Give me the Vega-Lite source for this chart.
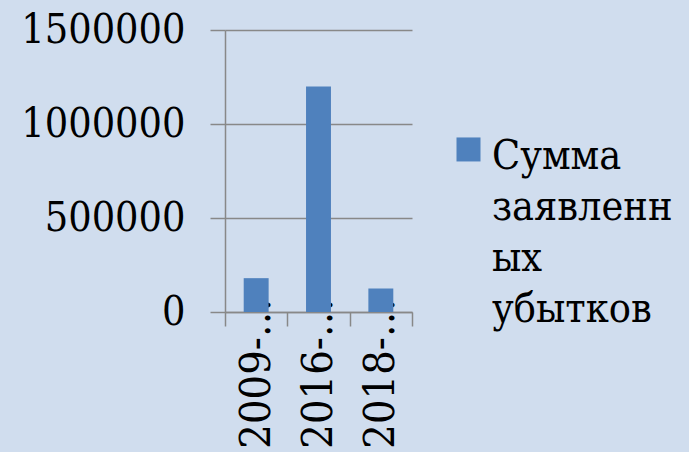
{
  "$schema": "https://vega.github.io/schema/vega-lite/v6.json",
  "width": 187,
  "height": 282,
  "autosize": "none",
  "padding": {"left": 225, "top": 30, "right": 277, "bottom": 140},
  "background": "#d0ddee",
  "data": {
    "values": [
      {"period": "2009-…", "amount": 180000, "series": "Сумма заявленных убытков"},
      {"period": "2016-…", "amount": 1200000, "series": "Сумма заявленных убытков"},
      {"period": "2018-…", "amount": 125000, "series": "Сумма заявленных убытков"}
    ]
  },
  "mark": {"type": "bar", "width": {"band": 0.4}},
  "encoding": {
    "x": {
      "field": "period",
      "type": "nominal",
      "sort": null,
      "title": null,
      "scale": {"paddingInner": 0, "paddingOuter": 0},
      "axis": {
        "tickBand": "extent",
        "labelAngle": 270,
        "labelAlign": "right",
        "labelBaseline": "middle",
        "labelPadding": -28,
        "labelFont": "DejaVu Serif Condensed",
        "labelFontSize": 43,
        "labelColor": "#000000",
        "labelLimit": 400,
        "tickSize": 14,
        "tickColor": "#888888",
        "tickWidth": 1.5,
        "domainColor": "#888888",
        "domainWidth": 1.5,
        "grid": false
      }
    },
    "y": {
      "field": "amount",
      "type": "quantitative",
      "title": null,
      "scale": {"domain": [0, 1500000], "nice": false},
      "axis": {
        "values": [0, 500000, 1000000, 1500000],
        "format": "d",
        "labelFont": "DejaVu Serif Condensed",
        "labelFontSize": 41,
        "labelColor": "#000000",
        "labelPadding": 25,
        "labelLimit": 400,
        "tickSize": 15,
        "tickColor": "#888888",
        "tickWidth": 1.5,
        "domainColor": "#888888",
        "domainWidth": 1.5,
        "grid": true,
        "gridColor": "#888888",
        "gridWidth": 1.5
      }
    },
    "color": {
      "field": "series",
      "type": "nominal",
      "scale": {"range": ["#4f81bd"]},
      "legend": {
        "title": null,
        "orient": "none",
        "legendX": 223,
        "legendY": 86,
        "symbolType": "M-1,0.08H1V2.08H-1Z",
        "symbolSize": 576,
        "symbolStrokeWidth": 0,
        "labelFont": "DejaVu Serif Condensed",
        "labelFontSize": 41,
        "labelColor": "#000000",
        "labelLimit": 400,
        "labelOffset": 3,
        "labelBaseline": "top",
        "labelExpr": "['Сумма', 'заявленн', 'ых', 'убытков']"
      }
    }
  },
  "config": {
    "view": {"stroke": null},
    "style": {"guide-label": {"lineHeight": 51}}
  }
}
